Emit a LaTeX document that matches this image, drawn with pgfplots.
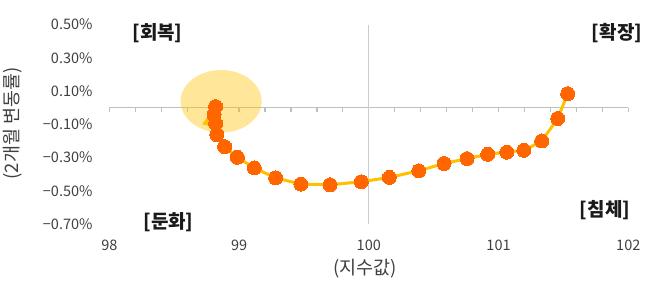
\documentclass[border=0pt]{standalone}
\usepackage{pgfplots}
\pgfplotsset{compat=1.18}
\usepackage{fontspec}
\setmainfont{Noto Sans CJK KR}
\usetikzlibrary{arrows.meta}
\definecolor{linec}{HTML}{FFC000}
\definecolor{markc}{HTML}{FF6600}
\definecolor{gridc}{HTML}{BFBFBF}
\definecolor{tickc}{HTML}{404040}
\definecolor{labc}{HTML}{1A1A1A}
\newcommand{\mn}{\char"2212\relax}
\begin{document}
\begin{tikzpicture}[x=1pt,y=1pt]
\path[use as bounding box] (0,0) rectangle (666,285);
\begin{axis}[
  at={(109.3pt,60.8pt)}, anchor=south west,
  width=519pt, height=199.7pt, scale only axis,
  xmin=98, xmax=102, ymin=-0.7, ymax=0.5,
  axis line style={draw=none}, tick style={draw=none},
  xtick={98,99,100,101,102},
  xticklabels={98,99,100,101,102},
  ytick={-0.7,-0.5,-0.3,-0.1,0.1,0.3,0.5},
  yticklabels={\mn0.70\%,\mn0.50\%,\mn0.30\%,\mn0.10\%,0.10\%,0.30\%,0.50\%},
  ticklabel style={font=\fontsize{14.5}{16}\selectfont, text=tickc, inner sep=0pt},
  xticklabel style={anchor=center, yshift=-21.3pt},
  yticklabel style={anchor=east, xshift=-16.6pt},
  clip=false,
]
\draw[gridc, line width=1.2pt] (axis cs:98,0) -- (axis cs:102,0);
\pgfplotsinvokeforeach{98,98.2,98.4,98.6,98.8,99,99.2,99.4,99.6,99.8,100,100.2,100.4,100.6,100.8,101,101.2,101.4,101.6,101.8,102}{
  \draw[gridc, line width=1.2pt] (axis cs:#1,0) -- ([yshift=-4pt]axis cs:#1,0);
}
\draw[gridc!80, line width=1.2pt] (axis cs:100,-0.7) -- (axis cs:100,0.5);
\addplot[linec, line width=3pt, no markers, -{Triangle[length=20pt,width=19pt]}] coordinates {
(101.533,0.084) (101.456,-0.065) (101.333,-0.200) (101.195,-0.256)
(101.063,-0.267) (100.916,-0.280) (100.757,-0.306) (100.580,-0.335)
(100.385,-0.379) (100.158,-0.419) (99.942,-0.445) (99.701,-0.463)
(99.477,-0.459) (99.282,-0.422) (99.118,-0.362) (98.987,-0.298)
(98.889,-0.234) (98.829,-0.162) (98.819,-0.096) (98.807,-0.042)
(98.819,0.007)
};
\addplot[markc, only marks, mark=*, mark size=7pt, mark options={fill=markc, draw=markc, line width=0pt}] coordinates {
(101.533,0.084) (101.456,-0.065) (101.333,-0.200) (101.195,-0.256)
(101.063,-0.267) (100.916,-0.280) (100.757,-0.306) (100.580,-0.335)
(100.385,-0.379) (100.158,-0.419) (99.942,-0.445) (99.701,-0.463)
(99.477,-0.459) (99.282,-0.422) (99.118,-0.362) (98.987,-0.298)
(98.889,-0.234) (98.829,-0.162) (98.819,-0.096) (98.807,-0.042)
(98.819,0.007)
};
\fill[linec, fill opacity=0.4] (axis cs:98.862,0.0385) ellipse [x radius=40.5pt, y radius=31.3pt];
\end{axis}
\node[font=\fontsize{19}{21}\selectfont\bfseries, text=labc] at (157.5,251.5) {[회복]};
\node[font=\fontsize{19}{21}\selectfont\bfseries, text=labc] at (617,252) {[확장]};
\node[font=\fontsize{19}{21}\selectfont\bfseries, text=labc] at (168.5,63.3) {[둔화]};
\node[font=\fontsize{19}{21}\selectfont\bfseries, text=labc] at (605,74.5) {[침체]};
\node[font=\fontsize{18.5}{20}\selectfont, text=tickc] at (365,16.5) {(지수값)};
\node[font=\fontsize{18.5}{20}\selectfont, text=tickc, rotate=90] at (12.7,161.5) {(2개월 변동률)};
\end{tikzpicture}
\end{document}
